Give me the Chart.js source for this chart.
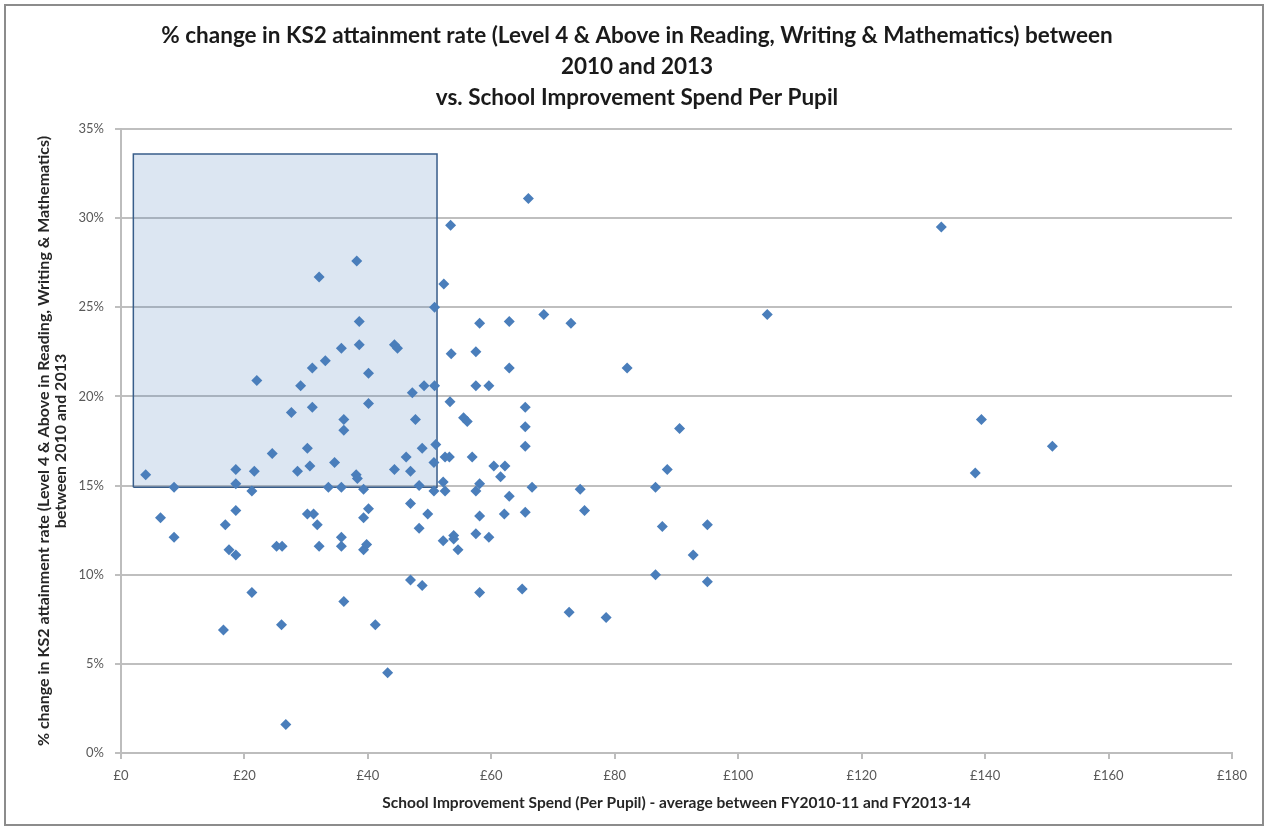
<!DOCTYPE html>
<html>
<head>
    <meta charset="utf-8">
    <title>KS2 attainment vs School Improvement Spend</title>
    <script src="https://cdn.jsdelivr.net/npm/chart.js"></script>
    <style>
        body { margin: 0; background: #fff; }
        .wrap { position: relative; width: 1268px; height: 830px; }
        .frame { position: absolute; left: 4px; top: 4px; right: 4px; bottom: 4px; border: 2px solid #8c8c8c; pointer-events: none; }
    </style>
</head>
<body>
    <div class="wrap">
        <canvas id="scatterChart" width="1268" height="830"></canvas>
        <div class="frame"></div>
    </div>

    <script>
        // spend per pupil (£) and % change in attainment, one entry per school
        const spend = [
            53.4, 38.2, 32.1, 52.3, 50.8, 38.6, 66.0, 58.1, 62.9, 68.5, 72.9, 104.7, 132.9, 139.4, 150.9, 138.4,
            53.5, 35.7, 38.6, 44.3, 44.8, 33.1, 31.0, 40.1, 22.0, 29.1, 47.2, 49.1, 50.8, 53.3, 40.1, 31.0,
            27.6, 47.7, 36.1, 36.1, 51.0, 48.8, 30.2, 46.2, 52.5, 53.2, 24.5, 34.6, 50.7, 30.6, 4.0, 18.6,
            21.6, 28.6, 44.3, 46.9, 38.1, 38.3, 18.6, 8.6, 21.2, 33.6, 35.7, 39.3, 48.3, 50.7, 52.2, 52.5,
            46.9, 18.6, 6.4, 40.1, 39.3, 49.7, 30.2, 31.2, 31.8, 16.9, 48.3, 8.6, 52.2, 53.9, 53.9, 35.7,
            17.5, 18.6, 25.2, 26.1, 32.1, 35.7, 39.3, 39.8, 54.6, 21.2, 16.6, 26.0, 36.1, 41.2, 46.9, 48.8,
            43.2, 26.7, 57.5, 62.9, 82.0, 57.5, 59.6, 65.5, 55.5, 56.1, 65.5, 90.5, 65.5, 56.9, 60.4, 62.2,
            61.5, 88.5, 58.1, 57.5, 62.9, 66.6, 74.4, 86.6, 58.1, 62.1, 65.5, 75.1, 87.7, 95.0, 57.5, 59.6,
            92.7, 86.6, 95.0, 58.1, 65.0, 72.6, 78.6
        ];
        const change = [
            29.6, 27.6, 26.7, 26.3, 25.0, 24.2, 31.1, 24.1, 24.2, 24.6, 24.1, 24.6, 29.5, 18.7, 17.2, 15.7,
            22.4, 22.7, 22.9, 22.9, 22.7, 22.0, 21.6, 21.3, 20.9, 20.6, 20.2, 20.6, 20.6, 19.7, 19.6, 19.4,
            19.1, 18.7, 18.7, 18.1, 17.3, 17.1, 17.1, 16.6, 16.6, 16.6, 16.8, 16.3, 16.3, 16.1, 15.6, 15.9,
            15.8, 15.8, 15.9, 15.8, 15.6, 15.4, 15.1, 14.9, 14.7, 14.9, 14.9, 14.8, 15.0, 14.7, 15.2, 14.7,
            14.0, 13.6, 13.2, 13.7, 13.2, 13.4, 13.4, 13.4, 12.8, 12.8, 12.6, 12.1, 11.9, 12.2, 12.0, 12.1,
            11.4, 11.1, 11.6, 11.6, 11.6, 11.6, 11.4, 11.7, 11.4, 9.0, 6.9, 7.2, 8.5, 7.2, 9.7, 9.4,
            4.5, 1.6, 22.5, 21.6, 21.6, 20.6, 20.6, 19.4, 18.8, 18.6, 18.3, 18.2, 17.2, 16.6, 16.1, 16.1,
            15.5, 15.9, 15.1, 14.7, 14.4, 14.9, 14.8, 14.9, 13.3, 13.4, 13.5, 13.6, 12.7, 12.8, 12.3, 12.1,
            11.1, 10.0, 9.6, 9.0, 9.2, 7.9, 7.6
        ];

        // highlighted region: spend range and change range
        const highlightSpend = [2, 51.2];
        const highlightChange = [14.9, 33.6];

        const titleLines = [
            '% change in KS2 attainment rate (Level 4 & Above in Reading, Writing & Mathematics) between',
            '2010 and 2013',
            'vs. School Improvement Spend Per Pupil'
        ];
        const yTitleLines = [
            '% change in KS2 attainment rate (Level 4 & Above in Reading, Writing & Mathematics)',
            'between 2010 and 2013'
        ];
        const xTitle = 'School Improvement Spend (Per Pupil) - average between FY2010-11 and FY2013-14';

        const FONT = "Lato, 'Open Sans', sans-serif";

        const points = spend.map((x, i) => ({ x: x, y: change[i] }));
        const [sx0, sx1] = highlightSpend;
        const [cy0, cy1] = highlightChange;
        const boxPath = [
            { x: sx0, y: cy0 }, { x: sx0, y: cy1 }, { x: sx1, y: cy1 }, { x: sx1, y: cy0 }, { x: sx0, y: cy0 }
        ];

        const ctx = document.getElementById('scatterChart').getContext('2d');
        new Chart(ctx, {
            type: 'scatter',
            data: {
                datasets: [
                    {
                        type: 'line',
                        data: boxPath,
                        borderColor: '#385D8A',
                        borderWidth: 1.5,
                        backgroundColor: 'rgba(79, 129, 189, 0.2)',
                        fill: 'shape',
                        pointRadius: 0,
                        tension: 0,
                        order: 2
                    },
                    {
                        data: points,
                        pointStyle: 'rectRot',
                        pointRadius: 5.5,
                        backgroundColor: '#4A7EBB',
                        borderColor: '#4A7EBB',
                        borderWidth: 0,
                        order: 1
                    }
                ]
            },
            options: {
                responsive: false,
                animation: false,
                devicePixelRatio: 1,
                layout: { padding: { left: 8, right: 2, top: 0, bottom: 8 } },
                plugins: {
                    legend: { display: false },
                    tooltip: { enabled: false },
                    title: {
                        display: true,
                        text: titleLines,
                        color: '#1a1a1a',
                        font: { family: FONT, size: 22.5, weight: 'bold', lineHeight: 31 / 22.5 },
                        padding: { top: 20, bottom: 16 }
                    }
                },
                scales: {
                    x: {
                        type: 'linear',
                        min: 0,
                        max: 180,
                        afterFit: (scale) => { scale.height = 69; },
                        ticks: {
                            stepSize: 20,
                            padding: 9,
                            color: '#595959',
                            font: { family: FONT, size: 13 },
                            callback: (v) => '£' + v
                        },
                        grid: {
                            drawOnChartArea: false,
                            drawTicks: true,
                            tickLength: 6,
                            tickColor: '#bdbdbd',
                            lineWidth: 2
                        },
                        border: { color: '#bdbdbd', width: 2 },
                        title: {
                            display: true,
                            text: xTitle,
                            color: '#262626',
                            font: { family: FONT, size: 15.5, weight: 'bold', lineHeight: 18 / 15.5 },
                            padding: { top: 0, bottom: 10 }
                        }
                    },
                    y: {
                        min: 0,
                        max: 35,
                        afterFit: (scale) => { scale.width = 113; },
                        ticks: {
                            stepSize: 5,
                            padding: 11,
                            color: '#595959',
                            font: { family: FONT, size: 13 },
                            callback: (v) => v + '%'
                        },
                        grid: {
                            color: '#bfbfbf',
                            lineWidth: 2,
                            tickLength: 6
                        },
                        border: { color: '#bdbdbd', width: 2 },
                        title: {
                            display: true,
                            text: yTitleLines,
                            color: '#262626',
                            font: { family: FONT, size: 16, weight: 'bold', lineHeight: 17 / 16 },
                            padding: { top: 27, bottom: 0 }
                        }
                    },
                    // empty right-hand margin so the plot ends at £180 like the original
                    spacer: {
                        position: 'right',
                        afterFit: (scale) => { scale.width = 34; },
                        ticks: { display: false },
                        grid: { display: false },
                        border: { display: false }
                    }
                }
            }
        });
    </script>
</body>
</html>
